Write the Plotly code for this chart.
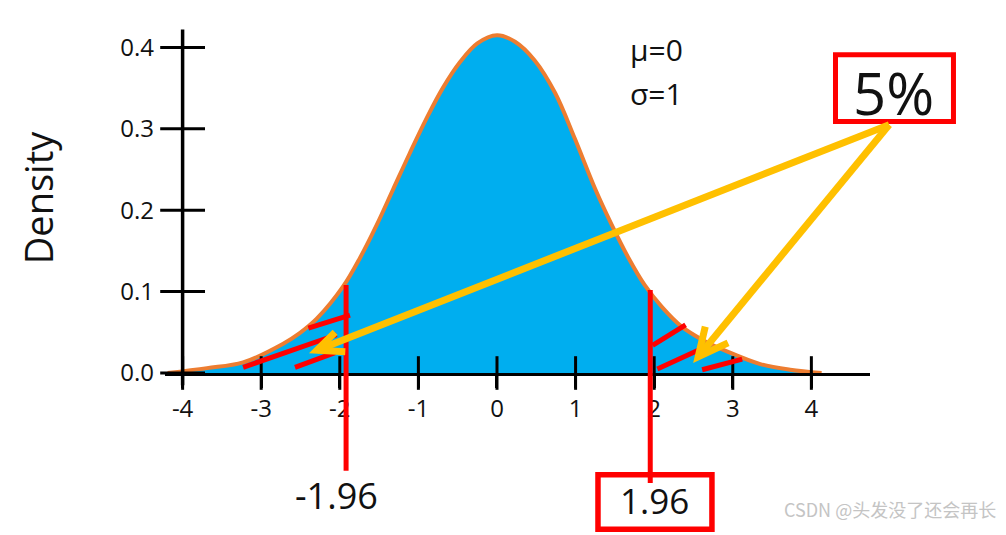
import plotly.graph_objects as go

# ---------------- data ----------------
curve_x = [-4.19, -3.69, -3.23, -2.72, -2.51, -2.29, -1.96, -1.74, -1.53, -1.32,
           -1.11, -0.89, -0.69, -0.47, -0.25, 0.0, 0.23, 0.48, 0.74, 0.99,
           1.25, 1.46, 1.67, 1.88, 2.10, 2.35, 2.61, 2.94, 3.35, 3.73, 4.13]
curve_y = [0.0, 0.006, 0.013, 0.036, 0.049, 0.067, 0.106, 0.142, 0.182, 0.226,
           0.270, 0.314, 0.350, 0.382, 0.405, 0.415, 0.407, 0.384, 0.344, 0.288,
           0.226, 0.182, 0.142, 0.108, 0.081, 0.057, 0.041, 0.026, 0.011, 0.004, 0.0]

x_ticks = [-4, -3, -2, -1, 0, 1, 2, 3, 4]
x_tick_text = ["-4", "-3", "-2", "-1", "0", "1", "2", "3", "4"]
y_ticks = [0.0, 0.1, 0.2, 0.3, 0.4]
y_tick_text = ["0.0", "0.1", "0.2", "0.3", "0.4"]

crit_left, crit_right = -1.92, 1.95      # drawn critical-value lines
crit_left_label, crit_right_label = "-1.96", "1.96"
alpha_label = "5%"
mu_label, sigma_label = "μ=0", "σ=1"

# ---------------- layout constants ----------------
W, H = 1006, 535
X_RANGE = [-4.224, 4.746]
Y_RANGE = [0.0, 0.43]
M = dict(l=165, r=136, t=23, b=162)

BLUE = "#00AEEF"
ORANGE = "#ED7D31"
RED = "#FF0000"
YELLOW = "#FFC000"
FONT = "Open Sans"
INK = "#111111"


def px(x):
    return (x - X_RANGE[0]) / (X_RANGE[1] - X_RANGE[0])


def py(y):
    return (y - Y_RANGE[0]) / (Y_RANGE[1] - Y_RANGE[0])


fig = go.Figure()

# filled density curve
fig.add_trace(go.Scatter(
    x=curve_x, y=curve_y, mode="lines", line=dict(color=ORANGE, width=4, shape="spline"),
    fill="tozeroy", fillcolor=BLUE, hoverinfo="skip", showlegend=False))

# crossing tick marks
fig.add_trace(go.Scatter(
    x=x_ticks, y=[0] * len(x_ticks), mode="markers", cliponaxis=False,
    marker=dict(symbol="line-ns", size=24, line=dict(color="black", width=3)),
    hoverinfo="skip", showlegend=False))
fig.add_trace(go.Scatter(
    x=[-4] * len(y_ticks), y=y_ticks, mode="markers", cliponaxis=False,
    marker=dict(symbol="line-ew", size=32, line=dict(color="black", width=3)),
    hoverinfo="skip", showlegend=False))

shapes = []
# y axis line at x=-4
shapes.append(dict(type="line", xref="paper", yref="paper", x0=px(-4), x1=px(-4),
                   y0=py(-0.015), y1=py(0.422), line=dict(color="black", width=3.5)))

# red critical lines
shapes.append(dict(type="line", xref="paper", yref="paper", x0=px(crit_left), x1=px(crit_left),
                   y0=py(-0.120), y1=py(0.108), line=dict(color=RED, width=5)))
shapes.append(dict(type="line", xref="paper", yref="paper", x0=px(crit_right), x1=px(crit_right),
                   y0=py(-0.135), y1=py(0.102), line=dict(color=RED, width=5)))

# red hatch strokes in the tails
hatches = [((-2.40, 0.055), (-1.87, 0.071)),
           ((-3.23, 0.007), (-2.04, 0.047)),
           ((-2.57, 0.007), (-2.06, 0.025)),
           ((1.98, 0.034), (2.40, 0.059)),
           ((2.04, 0.005), (2.56, 0.028)),
           ((2.61, 0.004), (3.12, 0.017))]
for (a, b) in hatches:
    shapes.append(dict(type="line", xref="paper", yref="paper",
                       x0=px(a[0]), y0=py(a[1]), x1=px(b[0]), y1=py(b[1]),
                       line=dict(color=RED, width=5)))

# boxes
shapes.append(dict(type="rect", xref="paper", yref="paper", x0=px(4.307), x1=px(5.808),
                   y0=py(0.309), y1=py(0.391), line=dict(color=RED, width=5),
                   fillcolor="white"))
shapes.append(dict(type="rect", xref="paper", yref="paper", x0=px(1.285), x1=px(2.735),
                   y0=py(-0.192), y1=py(-0.125), line=dict(color=RED, width=5.5),
                   fillcolor="rgba(0,0,0,0)"))

# yellow arrows
start = (4.99, 0.305)
arrows = [((-2.29, 0.028), (-2.06, 0.050), (-1.93, 0.026)),
          ((2.56, 0.020), (2.65, 0.057), (2.94, 0.037))]
for tip, a1, a2 in arrows:
    shapes.append(dict(type="line", xref="paper", yref="paper",
                       x0=px(start[0]), y0=py(start[1]), x1=px(tip[0]), y1=py(tip[1]),
                       line=dict(color=YELLOW, width=7)))
    path = "M {:.5f},{:.5f} L {:.5f},{:.5f} L {:.5f},{:.5f}".format(
        px(a1[0]), py(a1[1]), px(tip[0]), py(tip[1]), px(a2[0]), py(a2[1]))
    shapes.append(dict(type="path", xref="paper", yref="paper", path=path,
                       line=dict(color=YELLOW, width=7)))

annotations = [
    dict(xref="x", yref="y", x=1.667, y=0.397, text=mu_label, showarrow=False,
         xanchor="left", yanchor="middle", font=dict(family=FONT, size=30, color=INK)),
    dict(xref="x", yref="y", x=1.667, y=0.343, text=sigma_label, showarrow=False,
         xanchor="left", yanchor="middle", font=dict(family=FONT, size=30, color=INK)),
    dict(xref="paper", yref="paper", x=px(5.04), y=py(0.345), text=alpha_label, showarrow=False,
         xanchor="center", yanchor="middle", font=dict(family=FONT, size=58, color=INK)),
    dict(xref="paper", yref="paper", x=px(2.0), y=py(-0.157), text=crit_right_label, showarrow=False,
         xanchor="center", yanchor="middle", font=dict(family=FONT, size=35, color=INK)),
    dict(xref="paper", yref="paper", x=px(-2.04), y=py(-0.151), text=crit_left_label, showarrow=False,
         xanchor="center", yanchor="middle", font=dict(family=FONT, size=36, color=INK)),
    dict(xref="paper", yref="paper", x=px(6.37), y=py(-0.167), text="CSDN @头发没了还会再长",
         showarrow=False, xanchor="right", yanchor="middle",
         font=dict(family="Noto Sans CJK SC", size=18, color="#c4c4c4")),
]

fig.update_layout(
    width=W, height=H, margin=M, paper_bgcolor="white", plot_bgcolor="white",
    shapes=shapes, annotations=annotations, showlegend=False,
    xaxis=dict(range=X_RANGE, tickvals=x_ticks, ticktext=x_tick_text,
               showgrid=False, zeroline=False, showline=True, linecolor="black", linewidth=3,
               ticks="outside", ticklen=12, tickwidth=3, tickcolor="black",
               ticklabelstandoff=0,
               tickfont=dict(family=FONT, size=24, color=INK), fixedrange=True),
    yaxis=dict(range=Y_RANGE, tickvals=y_ticks, ticktext=y_tick_text,
               showgrid=False, zeroline=False, showline=False, ticks="",
               ticklabelstandoff=10,
               tickfont=dict(family=FONT, size=24, color=INK),
               title=dict(text="Density", font=dict(family=FONT, size=38, color=INK),
                          standoff=54),
               fixedrange=True),
)

fig.write_html("out.html", config={"displayModeBar": False},
               post_script="document.body.style.margin='0px';")
